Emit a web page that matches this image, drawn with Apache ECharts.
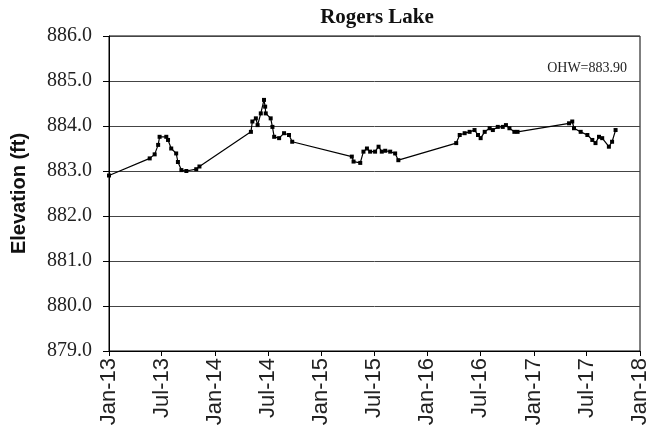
<!DOCTYPE html>
<html><head><meta charset="utf-8">
<script src="https://cdn.jsdelivr.net/npm/echarts@6/dist/echarts.min.js"></script>
<style>html,body{margin:0;padding:0;background:#fff}#c{width:651px;height:435px}</style>
</head><body><div id="c"></div>
<script>
const dates = [
 '2013-01-01','2013-05-21','2013-06-07','2013-06-19','2013-06-24','2013-07-17','2013-07-23','2013-08-03','2013-08-20','2013-08-26','2013-09-07','2013-09-24','2013-10-28','2013-11-08',
 '2014-05-04','2014-05-09','2014-05-21','2014-05-27','2014-06-07','2014-06-18','2014-06-22','2014-06-24','2014-07-11','2014-07-17','2014-07-23','2014-08-09','2014-08-26','2014-09-12','2014-09-23',
 '2015-04-16','2015-04-22','2015-05-15','2015-05-26','2015-06-07','2015-06-18','2015-07-05','2015-07-17','2015-07-28','2015-08-09','2015-08-26','2015-09-12','2015-09-23',
 '2016-04-09','2016-04-21','2016-05-08','2016-05-25','2016-06-11','2016-06-23','2016-07-02','2016-07-16','2016-08-02','2016-08-13','2016-08-30','2016-09-16','2016-09-27','2016-10-09','2016-10-26','2016-11-06',
 '2017-05-02','2017-05-13','2017-05-19','2017-06-11','2017-07-04','2017-07-21','2017-08-01','2017-08-13','2017-08-24','2017-09-16','2017-09-27','2017-10-09'
];
const elevations = [
 882.90,883.28,883.37,883.58,883.76,883.76,883.69,883.50,883.39,883.20,883.02,883.00,883.04,883.10,
 883.87,884.10,884.17,884.02,884.28,884.58,884.43,884.28,884.17,883.98,883.76,883.73,883.84,883.80,883.65,
 883.32,883.21,883.18,883.43,883.50,883.43,883.43,883.54,883.43,883.45,883.43,883.39,883.24,
 883.62,883.80,883.84,883.87,883.91,883.80,883.73,883.87,883.95,883.91,883.98,883.98,884.02,883.95,883.87,883.87,
 884.06,884.10,883.95,883.87,883.80,883.69,883.62,883.76,883.73,883.54,883.65,883.91
];
const xTickDates = ['2013-01-01','2013-07-01','2014-01-01','2014-07-01','2015-01-01','2015-07-01','2016-01-01','2016-07-01','2017-01-01','2017-07-01','2018-01-01'];
const monthNames = ['Jan','Feb','Mar','Apr','May','Jun','Jul','Aug','Sep','Oct','Nov','Dec'];
const yMin = 879, yMax = 886, yStep = 1;
const titleText = 'Rogers Lake';
const yName = 'Elevation (ft)';
const ohwText = 'OHW=883.90';

function ts(s){const p=s.split('-').map(Number);return Date.UTC(p[0],p[1]-1,p[2]);}
const xTicks = xTickDates.map(ts);
const seriesData = dates.map((d,i)=>[ts(d),elevations[i]]);

const chart = echarts.init(document.getElementById('c'));
chart.setOption({
  animation:false,
  backgroundColor:'#fff',
  grid:{left:109,right:8,top:36,bottom:84,show:true,borderColor:'#000',borderWidth:1,backgroundColor:'transparent'},
  xAxis:{
    type:'value',min:xTicks[0],max:xTicks[xTicks.length-1],
    axisLine:{show:true,lineStyle:{color:'#000',width:1}},
    axisTick:{show:true,length:5,customValues:xTicks,lineStyle:{color:'#000'}},
    axisLabel:{customValues:xTicks,rotate:90,margin:7,fontFamily:'Liberation Sans',fontSize:22,color:'#222',
      formatter:function(v){const d=new Date(v);return monthNames[d.getUTCMonth()]+'-'+String(d.getUTCFullYear()).slice(2);}},
    splitLine:{show:false}
  },
  yAxis:{
    type:'value',min:yMin,max:yMax,interval:yStep,
    name:yName,nameLocation:'middle',nameGap:80,
    nameTextStyle:{fontFamily:'Liberation Sans',fontWeight:'bold',fontSize:20,color:'#111'},
    axisLine:{show:true,lineStyle:{color:'#000',width:1}},
    axisTick:{show:true,length:6,lineStyle:{color:'#000'}},
    axisLabel:{margin:17,fontFamily:'Liberation Serif',fontSize:20,color:'#222',formatter:function(v){return v.toFixed(1);}},
    splitLine:{show:true,lineStyle:{color:'#444',width:1}}
  },
  graphic:[
    {type:'text',x:377,y:18,style:{text:titleText,fontFamily:'Liberation Serif',fontWeight:'bold',fontSize:21,fill:'#111',textAlign:'center',textVerticalAlign:'middle'}},
    {type:'text',x:627,y:68,style:{text:ohwText,fontFamily:'Liberation Serif',fontSize:14,fill:'#222',textAlign:'right',textVerticalAlign:'middle'}}
  ],
  series:[{
    type:'line',data:seriesData,symbol:'rect',symbolSize:4,showSymbol:true,
    lineStyle:{color:'#000',width:1.2},itemStyle:{color:'#000'},clip:true
  }]
});
</script>
</body></html>
